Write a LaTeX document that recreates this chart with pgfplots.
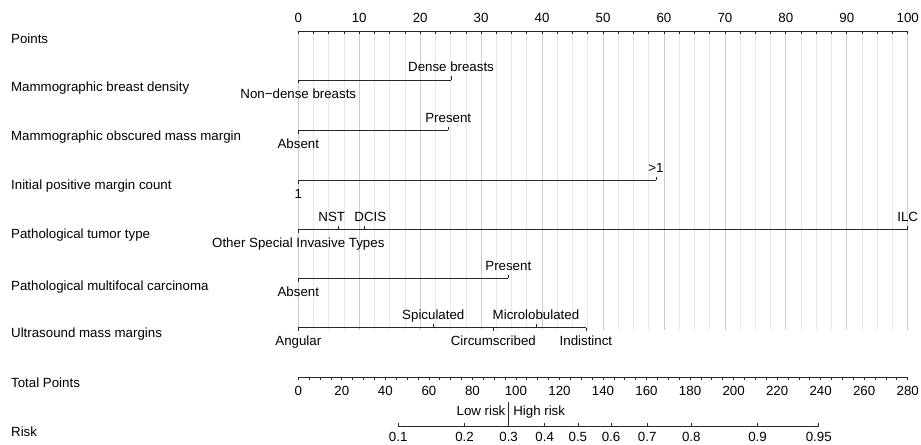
\documentclass[border=0pt]{standalone}
\usepackage{fontspec}
\setmainfont{Liberation Sans}
\usepackage{pgfplots}
\usepackage{pgfplotstable}
\pgfplotsset{compat=1.18}
\newcommand{\lbl}{\fontsize{13.3bp}{16bp}\selectfont}
\begin{document}
\begin{tikzpicture}
\begin{axis}[
  width=921bp, height=445bp, scale only axis,
  xmin=-48.95, xmax=102.18, ymin=0, ymax=445, y dir=reverse,
  hide axis, clip=false,
  ln/.style={black!85, line width=0.75bp, mark=none},
  tkd/.style={black!85, line width=0.75bp, mark=none, quiver={u=0, v=#1}},
  tku/.style={black!85, line width=0.75bp, mark=none, quiver={u=0, v=-#1}},
  grd/.style={#1, line width=0.7bp, mark=none, quiver={u=0, v=299}},
  lab/.style={only marks, mark=none, nodes near coords, point meta=explicit symbolic,
    every node near coord/.append style={anchor=#1, font=\lbl, inner sep=0pt, text=black}},
]
% grid lines
\addplot[grd=black!9] coordinates {(2.5,31) (5,31) (7.5,31) (12.5,31) (15,31) (17.5,31) (22.5,31) (25,31) (27.5,31) (32.5,31) (35,31) (37.5,31) (42.5,31) (45,31) (47.5,31) (52.5,31) (55,31) (57.5,31) (62.5,31) (65,31) (67.5,31) (72.5,31) (75,31) (77.5,31) (82.5,31) (85,31) (87.5,31) (92.5,31) (95,31) (97.5,31)};
\addplot[grd=black!20] coordinates {(0,31) (10,31) (20,31) (30,31) (40,31) (50,31) (60,31) (70,31) (80,31) (90,31) (100,31)};

% left labels
\addplot[lab=base west] table[meta=l] {
x y l
-47.15 43.5 Points
-47.15 91.5 {Mammographic breast density}
-47.15 140.5 {Mammographic obscured mass margin}
-47.15 189.5 {Initial positive margin count}
-47.15 238.5 {Pathological tumor type}
-47.15 290 {Pathological multifocal carcinoma}
-47.15 337 {Ultrasound mass margins}
-47.15 387 {Total Points}
-47.15 436 Risk
};

% Points axis
\addplot[ln] coordinates {(0,31) (100,31)};
\addplot[tkd=3] coordinates {(0,31) (2.5,31) (5,31) (7.5,31) (10,31) (12.5,31) (15,31) (17.5,31) (20,31) (22.5,31) (25,31) (27.5,31) (30,31) (32.5,31) (35,31) (37.5,31) (40,31) (42.5,31) (45,31) (47.5,31) (50,31) (52.5,31) (55,31) (57.5,31) (60,31) (62.5,31) (65,31) (67.5,31) (70,31) (72.5,31) (75,31) (77.5,31) (80,31) (82.5,31) (85,31) (87.5,31) (90,31) (92.5,31) (95,31) (97.5,31) (100,31)};
\addplot[lab=base] table[meta=l] {
x y l
0 23 0
10 23 10
20 23 20
30 23 30
40 23 40
50 23 50
60 23 60
70 23 70
80 23 80
90 23 90
100 23 100
};

% Mammographic breast density
\addplot[ln] coordinates {(0,80) (25.06,80)};
\addplot[tkd=3.5] coordinates {(0,80)};
\addplot[tku=3.5] coordinates {(25.06,80)};
\addplot[lab=base] table[meta=l] {
x y l
0 98 {Non−dense breasts}
25.06 72 {Dense breasts}
};

% Mammographic obscured mass margin
\addplot[ln] coordinates {(0,130) (24.6,130)};
\addplot[tkd=3.5] coordinates {(0,130)};
\addplot[tku=3.5] coordinates {(24.6,130)};
\addplot[lab=base] table[meta=l] {
x y l
0 148 Absent
24.6 122 Present
};

% Initial positive margin count
\addplot[ln] coordinates {(0,180) (58.7,180)};
\addplot[tkd=3.5] coordinates {(0,180)};
\addplot[tku=3.5] coordinates {(58.7,180)};
\addplot[lab=base] table[meta=l] {
x y l
0 198 1
58.7 172 {>1}
};

% Pathological tumor type
\addplot[ln] coordinates {(0,229) (100,229)};
\addplot[tkd=3.5] coordinates {(0,229)};
\addplot[tku=3.5] coordinates {(6.56,229) (10.83,229) (100,229)};
\addplot[lab=base] table[meta=l] {
x y l
0 247 {Other Special Invasive Types}
100 221 ILC
};
\addplot[lab=base, every node near coord/.append style={xshift=-6.5bp}] table[meta=l] {
x y l
6.56 221 NST
};
\addplot[lab=base, every node near coord/.append style={xshift=6bp}] table[meta=l] {
x y l
10.83 221 DCIS
};

% Pathological multifocal carcinoma
\addplot[ln] coordinates {(0,278.3) (34.46,278.3)};
\addplot[tkd=3.5] coordinates {(0,278.3)};
\addplot[tku=3.5] coordinates {(34.46,278.3)};
\addplot[lab=base] table[meta=l] {
x y l
0 296.3 Absent
34.46 270.3 Present
};

% Ultrasound mass margins
\addplot[ln] coordinates {(0,327.7) (47.2,327.7)};
\addplot[tkd=3.5] coordinates {(0,327.7) (32.0,327.7) (47.2,327.7)};
\addplot[tku=3.5] coordinates {(22.15,327.7) (39.0,327.7)};
\addplot[lab=base] table[meta=l] {
x y l
0 345.7 Angular
22.15 319.7 Spiculated
32.0 345.7 Circumscribed
39.0 319.7 Microlobulated
47.2 345.7 Indistinct
};

% Total points axis
\addplot[ln] table[x expr=\thisrow{t}/2.8, y expr=377] {
t
0
280
};
\addplot[tkd=3] table[x expr=\thisrow{t}/2.8, y expr=377] {
t
0
5
10
15
20
25
30
35
40
45
50
55
60
65
70
75
80
85
90
95
100
105
110
115
120
125
130
135
140
145
150
155
160
165
170
175
180
185
190
195
200
205
210
215
220
225
230
235
240
245
250
255
260
265
270
275
280
};
\addplot[lab=base] table[x expr=\thisrow{t}/2.8, y expr=395, meta=l] {
t l
0 0
20 20
40 40
60 60
80 80
100 100
120 120
140 140
160 160
180 180
200 200
220 220
240 240
260 260
280 280
};

% Risk axis
\addplot[ln] table[x expr=\thisrow{t}/2.8, y expr=426] {
t
45.9
239.1
};
\addplot[tku=3] table[x expr=\thisrow{t}/2.8, y expr=426] {
t
45.9
76.37
96.62
113.22
128.46
143.70
160.30
180.55
211.02
239.10
};
\addplot[lab=base] table[x expr=\thisrow{t}/2.8, y expr=441.5, meta=l] {
t l
45.9 0.1
76.37 0.2
96.62 0.3
113.22 0.4
128.46 0.5
143.70 0.6
160.30 0.7
180.55 0.8
211.02 0.9
239.10 0.95
};
% cut-off line
\addplot[ln] table[x expr=\thisrow{t}/2.8] {
t y
96.62 402
96.62 426
};
\addplot[lab=base east, every node near coord/.append style={xshift=-3bp}] table[x expr=\thisrow{t}/2.8, meta=l] {
t y l
96.62 415.7 {Low risk}
};
\addplot[lab=base west, every node near coord/.append style={xshift=4.5bp}] table[x expr=\thisrow{t}/2.8, meta=l] {
t y l
96.62 415.7 {High risk}
};

\path (rel axis cs:0,0) rectangle (rel axis cs:1,1);
\end{axis}
\end{tikzpicture}
\end{document}
